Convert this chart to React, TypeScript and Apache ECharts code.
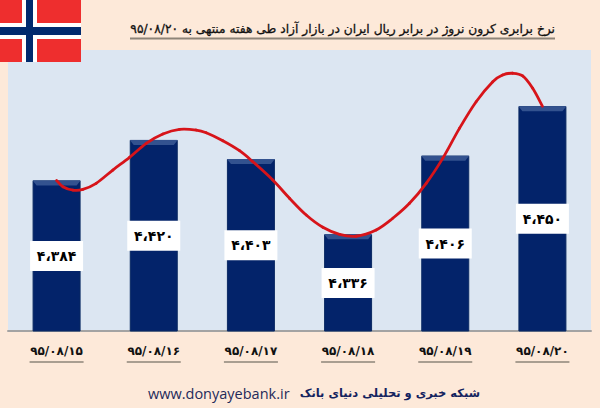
import React, { useEffect, useRef } from 'react';
import * as echarts from 'echarts';

const dates = ['۹۵/۰۸/۱۵', '۹۵/۰۸/۱۶', '۹۵/۰۸/۱۷', '۹۵/۰۸/۱۸', '۹۵/۰۸/۱۹', '۹۵/۰۸/۲۰'];
const rates = [4384, 4420, 4403, 4336, 4406, 4450];
const rateLabels = ['۴،۳۸۴', '۴،۴۲۰', '۴،۴۰۳', '۴،۳۳۶', '۴،۴۰۶', '۴،۴۵۰'];

// the red curve is not a plain smooth of the bars, so it is read off the picture
const curvePos = [0, 0.065, 0.168, 0.27, 0.408, 0.579, 0.751, 0.923, 1.094, 1.265, 1.437, 1.54, 1.711, 1.883, 2.02, 2.225, 2.397, 2.569, 2.74, 2.912, 3.083, 3.289, 3.46, 3.632, 3.804, 3.974, 4.146, 4.318, 4.489, 4.591, 4.694, 4.797, 4.9, 5];
const curveRate = [4384, 4378.4, 4375.4, 4376, 4381.4, 4393.2, 4404.5, 4417, 4425.3, 4429.4, 4428.8, 4426.4, 4419.3, 4410.4, 4400.6, 4384.3, 4368.1, 4353.2, 4342.3, 4336, 4334.3, 4339.9, 4350.3, 4363.6, 4381.4, 4403.6, 4430.3, 4454, 4471.8, 4477.8, 4479.3, 4476.9, 4465.9, 4450];

const title = 'نرخ برابری کرون نروژ در برابر ریال ایران در بازار آزاد طی هفته منتهی به ۹۵/۰۸/۲۰';
const siteName = 'شبکه خبری و تحلیلی دنیای بانک';
const siteUrl = 'www.donyayebank.ir';

const gridLeft = 8;
const gridWidth = 583;
const faFont = '"DejaVu Sans", sans-serif';

const App: React.FC = () => {
  const chartRef = useRef<HTMLDivElement>(null);

  useEffect(() => {
    if (!chartRef.current) return;
    const chart = echarts.init(chartRef.current, undefined, { renderer: 'svg' });

    const step = gridWidth / dates.length;
    const underlines = dates.map((_, i) => ({
      type: 'line',
      shape: {
        x1: gridLeft + step * (i + 0.5) - 27,
        y1: 362,
        x2: gridLeft + step * (i + 0.5) + 27,
        y2: 362,
      },
      style: { stroke: '#8d8478', lineWidth: 1.5 },
    }));

    const option: any = {
      animation: false,
      backgroundColor: '#fde9d9',
      grid: {
        show: true,
        left: gridLeft,
        width: gridWidth,
        top: 50,
        bottom: 77,
        backgroundColor: '#dce6f2',
        borderWidth: 0,
      },
      xAxis: [
        {
          type: 'category',
          data: dates,
          axisTick: { show: false },
          axisLine: { lineStyle: { color: '#a3a3a3', width: 2 } },
          axisLabel: {
            margin: 14,
            fontFamily: faFont,
            fontSize: 12,
            fontWeight: 'bold',
            color: '#111',
          },
        },
        { type: 'value', min: -0.5, max: 5.5, show: false },
      ],
      yAxis: { type: 'value', min: 4250, max: 4500, show: false },
      series: [
        {
          type: 'bar',
          data: rates,
          barWidth: 48,
          itemStyle: { color: '#03236a', borderColor: '#0b2a63', borderWidth: 1 },
          label: {
            show: true,
            position: 'inside',
            formatter: (p: any) => rateLabels[p.dataIndex],
            backgroundColor: '#fff',
            width: 53,
            height: 30,
            lineHeight: 30,
            align: 'center',
            verticalAlign: 'middle',
            fontFamily: faFont,
            fontSize: 14,
            fontWeight: 'bold',
            color: '#000',
          },
        },
        {
          // light bevel along the top of each bar
          type: 'custom',
          data: rates.map((v, i) => [i, v]),
          renderItem: (_: any, api: any) => {
            const [x, y] = api.coord([api.value(0), api.value(1)]);
            return {
              type: 'polygon',
              shape: {
                points: [
                  [x - 24, y],
                  [x + 24, y],
                  [x + 20, y + 5],
                  [x - 20, y + 5],
                ],
              },
              style: { fill: '#33528f' },
            };
          },
          z: 3,
        },
        {
          // one bezier piece per read point, catmull-rom through its neighbours
          type: 'custom',
          xAxisIndex: 1,
          clip: false,
          data: curvePos.map((p, i) => [p, curveRate[i]]),
          renderItem: (params: any, api: any) => {
            const i = params.dataIndex;
            if (i >= curvePos.length - 1) return null;
            const at = (k: number) => {
              const j = Math.max(0, Math.min(curvePos.length - 1, k));
              return api.coord([curvePos[j], curveRate[j]]);
            };
            const p0 = at(i - 1);
            const p1 = at(i);
            const p2 = at(i + 1);
            const p3 = at(i + 2);
            return {
              type: 'bezierCurve',
              shape: {
                x1: p1[0],
                y1: p1[1],
                x2: p2[0],
                y2: p2[1],
                cpx1: p1[0] + (p2[0] - p0[0]) / 6,
                cpy1: p1[1] + (p2[1] - p0[1]) / 6,
                cpx2: p2[0] - (p3[0] - p1[0]) / 6,
                cpy2: p2[1] - (p3[1] - p1[1]) / 6,
              },
              style: { fill: 'none', stroke: '#d7141a', lineWidth: 2.8, lineCap: 'round' },
            };
          },
          z: 4,
        },
      ],
      graphic: [
        { type: 'rect', shape: { x: 0, y: 0, width: 81, height: 62 }, style: { fill: '#ee2e2e' }, z: 10 },
        { type: 'rect', shape: { x: 22, y: 0, width: 15, height: 62 }, style: { fill: '#fff' }, z: 11 },
        { type: 'rect', shape: { x: 0, y: 23, width: 81, height: 16 }, style: { fill: '#fff' }, z: 11 },
        { type: 'rect', shape: { x: 26, y: 0, width: 7, height: 62 }, style: { fill: '#012a6e' }, z: 12 },
        { type: 'rect', shape: { x: 0, y: 27, width: 81, height: 8 }, style: { fill: '#012a6e' }, z: 12 },
        {
          type: 'text',
          style: {
            x: 555,
            y: 29,
            text: title,
            align: 'right',
            verticalAlign: 'middle',
            font: `12.25px ${faFont}`,
            fill: '#111',
            stroke: '#111',
            lineWidth: 0.3,
          },
        },
        {
          type: 'line',
          shape: { x1: 130, y1: 38.5, x2: 555, y2: 38.5 },
          style: { stroke: '#8d8478', lineWidth: 2 },
        },
        ...underlines,
        {
          type: 'text',
          style: {
            x: 148,
            y: 393,
            text: siteUrl,
            align: 'left',
            verticalAlign: 'middle',
            font: '14.5px "Open Sans", sans-serif',
            fill: '#1f2a5a',
          },
        },
        {
          type: 'text',
          style: {
            x: 480,
            y: 393,
            text: siteName,
            align: 'right',
            verticalAlign: 'middle',
            font: `bold 11.5px ${faFont}`,
            fill: '#14235f',
          },
        },
      ],
    };
    chart.setOption(option);

    return () => {
      chart.dispose();
    };
  }, []);

  return (
    <div
      ref={chartRef}
      style={{ position: 'fixed', left: 0, top: 0, width: 600, height: 408 }}
    ></div>
  );
};

export default App;
